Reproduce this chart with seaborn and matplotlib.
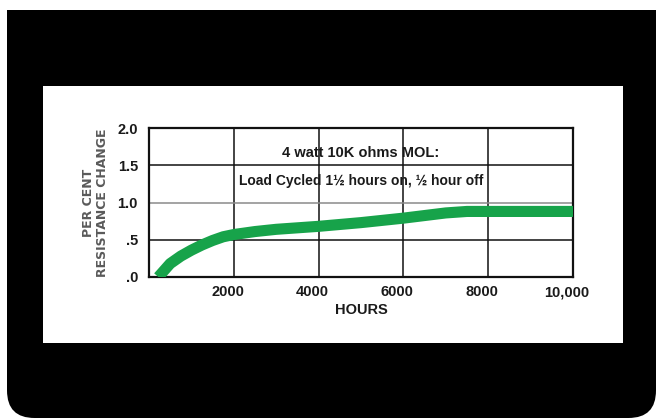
import numpy as np
import pandas as pd
import matplotlib.pyplot as plt
import seaborn as sns
from matplotlib.patches import FancyBboxPatch, Rectangle
from matplotlib.transforms import ScaledTranslation
from matplotlib import font_manager

# data
hours = [220, 500, 750, 1000, 1250, 1500, 1750, 2000, 2500, 3000, 4000, 5000, 6000, 7000, 7500, 8000, 9000, 10000]
resistance_change = [0.0, 0.18, 0.28, 0.36, 0.43, 0.49, 0.54, 0.57, 0.61, 0.64, 0.68, 0.73, 0.79, 0.86, 0.88, 0.88, 0.88, 0.88]
x_ticks = [2000, 4000, 6000, 8000, 10000]
x_tick_labels = ['2000', '4000', '6000', '8000', '10,000']
y_ticks = [0.0, 0.5, 1.0, 1.5, 2.0]
y_tick_labels = ['.0', '.5', '1.0', '1.5', '2.0']
title_line1 = '4 watt 10K ohms MOL:'
title_line2 = 'Load Cycled 1½ hours on, ½ hour off'

df = pd.DataFrame({'hours': hours, 'change': resistance_change})

sns.set_style('white')
installed = {f.name for f in font_manager.fontManager.ttflist}
narrow = 'Liberation Sans Narrow' if 'Liberation Sans Narrow' in installed else 'Liberation Sans'
plt.rcParams['font.family'] = [narrow, 'DejaVu Sans']

W, H = 656, 418
fig = plt.figure(figsize=(W / 100, H / 100), dpi=100)
fig.patch.set_facecolor('white')

def px(x0, y0, x1, y1):
    # pixel box (top-left origin) -> figure fraction
    return x0 / W, 1 - y1 / H, (x1 - x0) / W, (y1 - y0) / H

# black card with rounded bottom corners
bx, by, bw, bh = px(7, -60, 656, 418)
card = FancyBboxPatch((bx, by), bw, bh, boxstyle='round,pad=0,rounding_size=0.042',
                      mutation_aspect=W / H, transform=fig.transFigure,
                      facecolor='black', edgecolor='none', zorder=-3)
fig.patches.append(card)
tx, ty, tw, th = px(0, 0, W, 10)
fig.patches.append(Rectangle((tx, ty), tw, th, transform=fig.transFigure,
                             facecolor='white', edgecolor='none', zorder=-2))
# white panel
wx, wy, ww, wh = px(43, 86, 623, 343)
fig.patches.append(Rectangle((wx, wy), ww, wh, transform=fig.transFigure,
                             facecolor='white', edgecolor='none', zorder=-1))

ax = fig.add_axes(px(149, 128, 573, 277))
ax.set_facecolor('white')
sns.lineplot(data=df, x='hours', y='change', ax=ax, color='#17a34a', linewidth=8,
             solid_capstyle='butt', solid_joinstyle='round', zorder=3)

ax.set_xlim(0, 10000)
ax.set_ylim(0, 2.0)
ax.set_xticks(x_ticks)
ax.set_xticklabels(x_tick_labels)
ax.set_yticks(y_ticks)
ax.set_yticklabels(y_tick_labels)
ax.tick_params(axis='both', length=0, labelsize=10.5, colors='#1a1a1a')
ax.tick_params(axis='x', pad=6)
ax.tick_params(axis='y', pad=8)
shift = ScaledTranslation(-6 / 100, 0, fig.dpi_scale_trans)
for lbl in ax.get_xticklabels():
    lbl.set_fontweight('bold')
    lbl.set_transform(lbl.get_transform() + shift)
for lbl in ax.get_yticklabels():
    lbl.set_fontweight('bold')

ax.grid(True, color='#111111', linewidth=1.1)
ax.yaxis.get_gridlines()[2].set_color('#8a8a8a')
for s in ax.spines.values():
    s.set_color('#111111')
    s.set_linewidth(1.6)

ax.set_xlabel('HOURS', fontsize=10.5, fontweight='bold', color='#1a1a1a', labelpad=3)
ax.set_ylabel('PER CENT\nRESISTANCE CHANGE', fontsize=9, color='#5a5a5a',
              fontweight='bold', labelpad=6, linespacing=1.1, family=['DejaVu Sans'])

ax.text(5000, 1.66, title_line1, ha='center', va='center', fontsize=10.5,
        fontweight='bold', color='#1a1a1a')
ax.text(5000, 1.29, title_line2, ha='center', va='center', fontsize=10,
        fontweight='bold', color='#1a1a1a')

fig.savefig('out.png', dpi=100, facecolor=fig.get_facecolor())
